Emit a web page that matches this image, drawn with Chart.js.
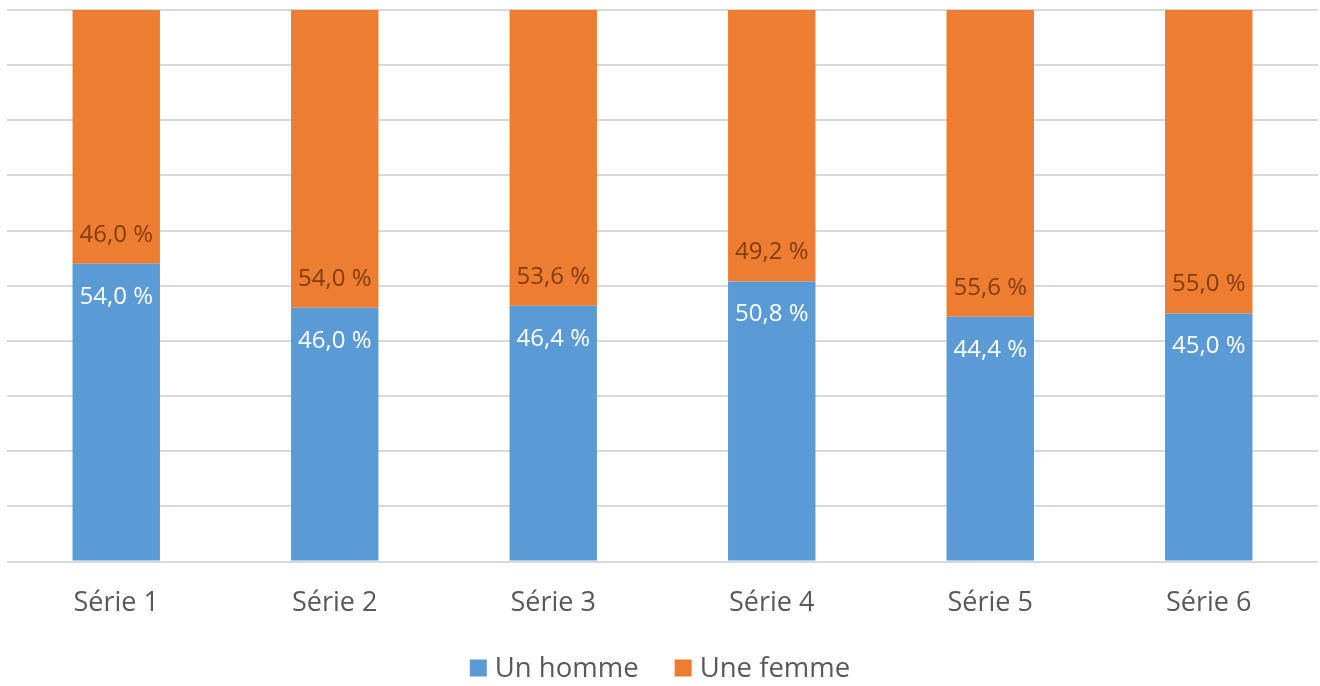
<!DOCTYPE html>
<html><head><meta charset="utf-8">
<script src="https://cdn.jsdelivr.net/npm/chart.js@4"></script>
<style>html,body{margin:0;padding:0;background:#fff}#wrap{width:1320px;height:686px}</style>
</head><body><div id="wrap"><canvas id="c"></canvas></div>
<script>
const categories = ["Série 1","Série 2","Série 3","Série 4","Série 5","Série 6"];
const hommeValues = [54.0, 46.0, 46.4, 50.8, 44.4, 45.0];
const femmeValues = [46.0, 54.0, 53.6, 49.2, 55.6, 55.0];
const seriesNames = ["Un homme","Une femme"];
const seriesColors = ['#5b9bd5', '#ed7d31'];
const FONT = "'Open Sans', sans-serif";

const fmt = v => v.toFixed(1).replace('.', ',') + ' %';

const labelPlugin = {
  id: 'barLabels',
  afterDatasetsDraw(chart) {
    const ctx = chart.ctx;
    ctx.save();
    ctx.font = "24px " + FONT;
    ctx.textAlign = 'center';
    ctx.textBaseline = 'middle';
    chart.data.datasets.forEach((ds, di) => {
      const meta = chart.getDatasetMeta(di);
      meta.data.forEach((bar, i) => {
        const v = ds.data[i];
        if (di === 0) {
          ctx.fillStyle = '#ffffff';
          ctx.fillText(fmt(v), bar.x, bar.y + 33);
        } else {
          ctx.fillStyle = '#843c0c';
          ctx.fillText(fmt(v), bar.x, bar.base - 29);
        }
      });
    });
    ctx.restore();
  }
};

const legendPlugin = {
  id: 'customLegend',
  afterDraw(chart) {
    const ctx = chart.ctx;
    ctx.save();
    ctx.font = "27.5px " + FONT;
    ctx.textBaseline = 'middle';
    ctx.textAlign = 'left';
    const box = 17, gapText = 8, gapItem = 36;
    const widths = chart.data.datasets.map(ds => box + gapText + ctx.measureText(ds.label).width);
    const total = widths.reduce((a, b) => a + b, 0) + gapItem * (widths.length - 1);
    let x = (chart.width - total) / 2;
    const cy = 668;
    chart.data.datasets.forEach((ds, i) => {
      ctx.fillStyle = ds.backgroundColor;
      ctx.fillRect(x, cy - box / 2, box, box);
      ctx.fillStyle = '#595959';
      ctx.fillText(ds.label, x + box + gapText, cy + 1);
      x += widths[i] + gapItem;
    });
    ctx.restore();
  }
};

new Chart(document.getElementById('c'), {
  type: 'bar',
  data: {
    labels: categories,
    datasets: [
      { label: seriesNames[0], data: hommeValues, backgroundColor: seriesColors[0], borderWidth: 0 },
      { label: seriesNames[1], data: femmeValues, backgroundColor: seriesColors[1], borderWidth: 0 }
    ]
  },
  options: {
    responsive: true,
    maintainAspectRatio: false,
    animation: false,
    layout: { padding: { left: 7, right: 2, top: 10, bottom: 48 } },
    datasets: { bar: { categoryPercentage: 1.0, barPercentage: 0.4 } },
    scales: {
      x: {
        stacked: true,
        grid: { display: false },
        border: { display: false },
        ticks: { color: '#595959', font: { family: FONT, size: 27 }, padding: 18 }
      },
      y: {
        stacked: true,
        min: 0, max: 100,
        ticks: { display: false, stepSize: 10 },
        border: { display: false },
        grid: { color: '#d9d9d9', lineWidth: 2, drawTicks: false }
      }
    },
    plugins: {
      legend: { display: false },
      tooltip: { enabled: false }
    }
  },
  plugins: [labelPlugin, legendPlugin]
});
</script></body></html>
